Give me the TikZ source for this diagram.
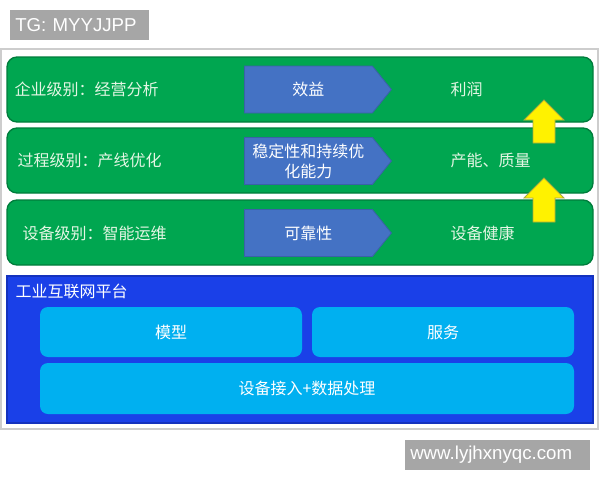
\documentclass[tikz,border=0pt]{standalone}
\usepackage{fontspec}
\setmainfont{Liberation Sans}
\newfontfamily\cjk{Noto Sans CJK SC}
\usetikzlibrary{shapes.symbols}
\definecolor{levelgreen}{RGB}{0,166,80}
\definecolor{levelborder}{RGB}{0,125,60}
\definecolor{leveltext}{RGB}{228,246,228}
\definecolor{goalblue}{RGB}{68,114,196}
\definecolor{platblue}{RGB}{26,64,232}
\definecolor{platborder}{RGB}{20,50,190}
\definecolor{modulecyan}{RGB}{0,176,240}
\definecolor{framegray}{RGB}{205,205,205}
\definecolor{markgray}{RGB}{166,166,166}
\definecolor{riseborder}{RGB}{170,170,60}
\begin{document}
\begin{tikzpicture}[x=0.75pt,y=-0.75pt]
\tikzstyle{Level}=[draw=levelborder, line width=1pt, fill=levelgreen, rounded corners=7.5pt, minimum width=439.5pt, minimum height=48.75pt, inner sep=0pt];
\tikzstyle{LevelText}=[anchor=west, text=leveltext, font=\cjk\fontsize{12}{14}\selectfont];
\tikzstyle{Goal}=[signal, signal to=east, signal pointer angle=102, fill=goalblue, draw=goalblue!85!black, line width=0.6pt, minimum width=110.25pt, minimum height=35.25pt, inner sep=0pt, anchor=west, align=center, text=white, font=\cjk\fontsize{12}{15}\selectfont];
\tikzstyle{Module}=[fill=modulecyan, rounded corners=6pt, minimum height=37.5pt, inner sep=0pt, text=white, font=\cjk\fontsize{12}{14}\selectfont];
\tikzstyle{Rise}=[fill=yellow, draw=riseborder, line width=0.6pt];
\tikzstyle{Mark}=[fill=markgray, minimum height=22.5pt, inner xsep=3.75pt, inner ysep=0pt, anchor=west, align=left, text=white, font=\fontsize{14}{16}\selectfont];
\useasboundingbox (0,0) rectangle (600,480);
\node [Mark, text width=96.75pt] (tg) at (10,25) {TG: MYYJJPP};
\node [draw=framegray, line width=1.1pt, minimum width=447.75pt, minimum height=285pt, inner sep=0pt] (frame) at (299.5,239) {};
\node [Level] (l1) at (300,89.5) {};
\node [Level] (l2) at (300,160.5) {};
\node [Level] (l3) at (300,232.5) {};
\node [LevelText] (n1) at (10,89) {企业级别：经营分析};
\node [LevelText] (n2) at (13,160) {过程级别：产线优化};
\node [LevelText] (n3) at (18,233) {设备级别：智能运维};
\node [Goal] (g1) at (244,89.5) {效益};
\node [Goal] (g2) at (244,161) {稳定性和持续优\\化能力};
\node [Goal] (g3) at (244,233) {可靠性};
\node [LevelText] (r1) at (446,89) {利润};
\node [LevelText] (r2) at (446,160) {产能、质量};
\node [LevelText] (r3) at (446,233) {设备健康};
\foreach \t/\b in {100/143, 178/222}
  \draw [Rise] (544,\t) -- (564,\t+20) -- (555,\t+20) -- (555,\b) -- (533,\b) -- (533,\t+20) -- (524,\t+20) -- cycle;
\node [fill=platblue, draw=platborder, line width=0.8pt, minimum width=439.5pt, minimum height=110.25pt, inner sep=0pt] (platform) at (300,349.5) {};
\node [anchor=west, text=white, font=\cjk\fontsize{12}{14}\selectfont] (pname) at (11,291) {工业互联网平台};
\node [Module, minimum width=196.5pt] (m1) at (171,332) {模型};
\node [Module, minimum width=196.5pt] (m2) at (443,332) {服务};
\node [Module, minimum width=400.5pt, minimum height=38.25pt] (m3) at (307,388.5) {设备接入+数据处理};
\node [Mark, text width=131.25pt] (www) at (405,455) {www.lyjhxnyqc.com};
\end{tikzpicture}
\end{document}
